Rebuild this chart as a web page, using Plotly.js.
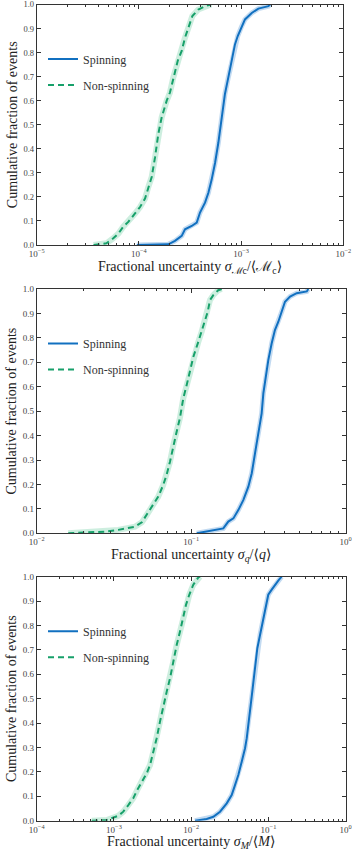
<!DOCTYPE html>
<html>
<head>
<meta charset="utf-8">
<script src="https://cdn.plot.ly/plotly-3.0.1.min.js"></script>
<style>
  html, body { margin: 0; padding: 0; background: #fff; }
  #chart { width: 353px; height: 851px; }
</style>
</head>
<body>
<div id="chart"></div>
<script>
// Cumulative fraction of events vs fractional uncertainty.
// Panel 1: chirp mass
const mcSpinX = [9.55e-5, 1.941e-4, 2.254e-4, 2.624e-4, 2.825e-4, 3.289e-4, 3.681e-4, 3.963e-4, 4.436e-4, 4.786e-4, 5.152e-4, 5.559e-4, 5.984e-4, 6.457e-4, 6.95e-4, 7.499e-4, 8.091e-4, 8.71e-4, 9.27e-4, 1.014e-3, 1.091e-3, 1.271e-3, 1.476e-3, 1.849e-3, 1.919e-3];
const mcSpinY = [0, 0.003, 0.017, 0.038, 0.065, 0.079, 0.093, 0.135, 0.176, 0.217, 0.272, 0.341, 0.424, 0.534, 0.628, 0.697, 0.766, 0.834, 0.869, 0.91, 0.938, 0.965, 0.983, 0.993, 1.0];
const mcNonX = [3.6e-5, 4.81e-5, 5.62e-5, 6.31e-5, 7.03e-5, 7.87e-5, 9.16e-5, 1.026e-4, 1.148e-4, 1.236e-4, 1.334e-4, 1.439e-4, 1.549e-4, 1.671e-4, 1.871e-4, 2.014e-4, 2.173e-4, 2.399e-4, 2.624e-4, 2.825e-4, 3.048e-4, 3.334e-4, 3.811e-4, 4.436e-4, 5.08e-4];
const mcNonY = [0, 0.007, 0.028, 0.048, 0.076, 0.096, 0.131, 0.158, 0.193, 0.241, 0.283, 0.365, 0.462, 0.531, 0.6, 0.634, 0.697, 0.766, 0.807, 0.862, 0.903, 0.952, 0.979, 0.993, 1.0];

// Panel 2: mass ratio
const qSpinX = [0.1086, 0.139, 0.1614, 0.1738, 0.1875, 0.2018, 0.2173, 0.2344, 0.2466, 0.2588, 0.2716, 0.2858, 0.2931, 0.3083, 0.3155, 0.3319, 0.3483, 0.3664, 0.3855, 0.4046, 0.4365, 0.4819, 0.5598, 0.5728];
const qSpinY = [0, 0.011, 0.02, 0.048, 0.061, 0.095, 0.136, 0.191, 0.246, 0.327, 0.409, 0.491, 0.573, 0.668, 0.709, 0.778, 0.832, 0.866, 0.907, 0.948, 0.969, 0.983, 0.99, 1.0];
const qNonX = [0.016, 0.0277, 0.0337, 0.0433, 0.0479, 0.0515, 0.0555, 0.0612, 0.0659, 0.0693, 0.0729, 0.0766, 0.0805, 0.0845, 0.0889, 0.0935, 0.0982, 0.1033, 0.1112, 0.1169, 0.1216, 0.1279, 0.1324, 0.139, 0.1496, 0.1574];
const qNonY = [0, 0.007, 0.014, 0.027, 0.045, 0.075, 0.109, 0.15, 0.198, 0.239, 0.293, 0.361, 0.416, 0.471, 0.553, 0.607, 0.661, 0.723, 0.784, 0.825, 0.866, 0.907, 0.955, 0.975, 0.995, 1.0];

// Panel 3: total mass
const mSpinX = [1.119e-2, 1.585e-2, 1.932e-2, 2.36e-2, 2.884e-2, 3.342e-2, 3.69e-2, 4.074e-2, 4.508e-2, 4.977e-2, 5.236e-2, 5.495e-2, 5.888e-2, 6.252e-2, 6.699e-2, 7.178e-2, 7.78e-2, 8.59e-2, 9.48e-2, 9.95e-2, 0.1102, 0.1216, 0.134, 0.1479];
const mSpinY = [0, 0.007, 0.016, 0.037, 0.071, 0.105, 0.146, 0.187, 0.242, 0.297, 0.338, 0.406, 0.474, 0.543, 0.625, 0.707, 0.761, 0.83, 0.898, 0.926, 0.947, 0.967, 0.984, 1.0];
const mNonX = [5.15e-4, 8.05e-4, 1.138e-3, 1.321e-3, 1.535e-3, 1.778e-3, 2.004e-3, 2.286e-3, 2.655e-3, 2.931e-3, 3.236e-3, 3.573e-3, 3.945e-3, 4.355e-3, 4.819e-3, 5.321e-3, 5.861e-3, 6.486e-3, 7.161e-3, 7.907e-3, 8.57e-3, 9.44e-3, 1.064e-2, 1.236e-2, 1.3e-2];
const mNonY = [0, 0.003, 0.02, 0.037, 0.064, 0.092, 0.126, 0.16, 0.194, 0.228, 0.283, 0.338, 0.406, 0.474, 0.529, 0.584, 0.652, 0.72, 0.775, 0.83, 0.885, 0.926, 0.967, 0.997, 1.0];

const seriesNames = ["Spinning", "Non-spinning"];
const xTitles = [
  "Fractional uncertainty <i>σ</i><sub>ℳc</sub>/⟨ℳ<sub>c</sub>⟩",
  "Fractional uncertainty <i>σ<sub>q</sub></i>/⟨<i>q</i>⟩",
  "Fractional uncertainty <i>σ<sub>M</sub></i>/⟨<i>M</i>⟩",
];
const yTitle = "Cumulative fraction of events";
const xDecades = [[-5, -4, -3, -2], [-2, -1, 0], [-4, -3, -2, -1, 0]];

const W = 353, H = 851;
const FONT = "Liberation Serif, DejaVu Serif, serif";
const BLUE = "#1170c0", GREEN = "#17a06a";
const BLUE_BAND = "rgba(80,150,215,0.35)", GREEN_BAND = "rgba(90,200,150,0.3)";

// plot boxes in pixels: [left, right, top, bottom]
const boxes = [
  [36.7, 343.3, 4.5, 245],
  [36.7, 345.7, 289, 533.3],
  [36.7, 345.7, 576.7, 820.7],
];

const panels = [
  { spin: [mcSpinX, mcSpinY], non: [mcNonX, mcNonY] },
  { spin: [qSpinX, qSpinY], non: [qNonX, qNonY] },
  { spin: [mSpinX, mSpinY], non: [mNonX, mNonY] },
];

// 2..9 x 10^d minor tick positions for a log axis
function minorTicks(dec) {
  const out = [];
  for (let k = 0; k < dec.length - 1; k++) {
    for (let m = 2; m <= 9; m++) out.push(m * Math.pow(10, dec[k]));
  }
  return out;
}

const traces = [];
const layout = {
  width: W,
  height: H,
  margin: { l: 0, r: 0, t: 0, b: 0 },
  paper_bgcolor: "#fff",
  plot_bgcolor: "#fff",
  font: { family: FONT, color: "#222", size: 12 },
  showlegend: true,
};

panels.forEach((p, i) => {
  const n = i + 1;
  const xa = n === 1 ? "x" : "x" + n;
  const ya = n === 1 ? "y" : "y" + n;
  const legendId = n === 1 ? "legend" : "legend" + n;
  const [l, r, t, b] = boxes[i];
  const dec = xDecades[i];

  // light bands drawn as wide translucent strokes under the lines
  traces.push({ x: p.spin[0], y: p.spin[1], xaxis: xa, yaxis: ya, mode: "lines",
    line: { color: BLUE_BAND, width: 5 }, showlegend: false, hoverinfo: "skip" });
  traces.push({ x: p.non[0], y: p.non[1], xaxis: xa, yaxis: ya, mode: "lines",
    line: { color: GREEN_BAND, width: 6 }, showlegend: false, hoverinfo: "skip" });
  traces.push({ x: p.spin[0], y: p.spin[1], xaxis: xa, yaxis: ya, mode: "lines",
    name: seriesNames[0], legend: legendId, legendgroup: "s" + n,
    line: { color: BLUE, width: 2 } });
  traces.push({ x: p.non[0], y: p.non[1], xaxis: xa, yaxis: ya, mode: "lines",
    name: seriesNames[1], legend: legendId, legendgroup: "n" + n,
    line: { color: GREEN, width: 2, dash: "6px,4px" } });

  layout["xaxis" + (n === 1 ? "" : n)] = {
    domain: [l / W, r / W],
    anchor: ya,
    type: "log",
    range: [dec[0], dec[dec.length - 1]],
    tickmode: "array",
    tickvals: dec.map((d) => Math.pow(10, d)),
    ticktext: dec.map((d) => "10<sup>" + (d < 0 ? "−" + -d : d) + "</sup>"),
    ticks: "inside",
    ticklen: 4,
    tickcolor: "#333",
    minor: { tickmode: "array", tickvals: minorTicks(dec), ticks: "inside",
      ticklen: 2, tickcolor: "#333", showgrid: false },
    showline: true,
    linecolor: "#333",
    linewidth: 1,
    mirror: "ticks",
    showgrid: false,
    zeroline: false,
    ticklabeloverflow: "allow",
    tickfont: { size: 9, color: "#444" },
    title: { text: xTitles[i], font: { size: 14 }, standoff: 3 },
    automargin: false,
  };
  layout["yaxis" + (n === 1 ? "" : n)] = {
    domain: [1 - b / H, 1 - t / H],
    anchor: xa,
    range: [0, 1],
    dtick: 0.1,
    tickformat: ".1f",
    ticks: "inside",
    ticklen: 4,
    tickcolor: "#333",
    showline: true,
    linecolor: "#333",
    linewidth: 1,
    mirror: "ticks",
    showgrid: false,
    zeroline: false,
    ticklabeloverflow: "allow",
    tickfont: { size: n === 1 ? 8.5 : 9, color: "#444" },
    title: { text: yTitle, font: { size: 14 }, standoff: 2 },
    automargin: false,
  };
  layout[legendId] = {
    x: 43 / W,
    y: 1 - (boxes[i][2] + 40) / H,
    xanchor: "left",
    yanchor: "top",
    bgcolor: "rgba(0,0,0,0)",
    borderwidth: 0,
    font: { size: 12, family: FONT, color: "#333" },
    tracegroupgap: 7,
  };
});

Plotly.newPlot("chart", traces, layout, { displayModeBar: false, staticPlot: true });
</script>
</body>
</html>
